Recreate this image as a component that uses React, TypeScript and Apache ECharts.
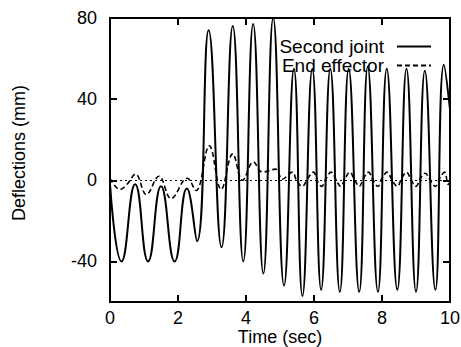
import React, { useEffect, useRef } from "react";
import * as echarts from "echarts";

// Second joint deflection (time s, value mm)
const jointTimes = [0, 0.34, 0.74, 1.12, 1.5, 1.9, 2.26, 2.56, 2.9, 3.28, 3.61, 3.92, 4.21, 4.51, 4.8, 5.12, 5.41, 5.66, 5.95, 6.21, 6.48, 6.76, 7.02, 7.33, 7.58, 7.88, 8.14, 8.45, 8.72, 9.0, 9.26, 9.57, 9.82, 10];
const jointValues = [-2, -40, -2, -40, -3, -40, -4, -30, 74, -33, 76, -40, 77, -46, 80, -52, 55, -57, 55, -54, 55, -55, 55, -55, 56, -55, 55, -54, 55, -55, 54, -54, 57, 35];

// End effector deflection
const effTimes = [0, 0.29, 0.5, 0.75, 1.07, 1.44, 1.8, 2.27, 2.53, 2.92, 3.27, 3.61, 3.9, 4.22, 4.48, 4.87, 5.07, 5.36, 5.5, 5.65, 5.82, 5.98, 6.12, 6.22, 6.36, 6.5, 6.66, 6.78, 6.92, 7.05, 7.2, 7.33, 7.46, 7.6, 7.74, 7.88, 8.0, 8.15, 8.3, 8.45, 8.58, 8.72, 8.86, 9.0, 9.13, 9.27, 9.42, 9.57, 9.7, 9.84, 9.95, 10];
const effValues = [1, -4.5, -2, 3, -7, 2, -9, 1, -5, 17, -4.5, 13, 0, 9, 4, 5.5, 0.5, 4, -0.5, -3, 1, 4, -1, -3, 1, 4, 0, -3, 1, 4, 0, -3, 1, 4, 0, -3, 1, 4, 0, -3, 1, 4, 0, -3, 1, 3.5, 0, -3, 1, 4, -2, -1];

const xTicks = [0, 2, 4, 6, 8, 10];
const yTicks = [-40, 0, 40, 80];

const FONT = "'Liberation Sans', Arial, Helvetica, sans-serif";

export default function App() {
  const ref = useRef<HTMLDivElement>(null);
  useEffect(() => {
    if (!ref.current) return;
    const chart = echarts.init(ref.current, undefined, { renderer: "svg" });
    const axisLine = () => ({ show: true, onZero: false, lineStyle: { color: "#000", width: 2 } });
    const tick = (vals: number[]) => ({ show: true, inside: true, length: 7, lineStyle: { color: "#000", width: 2 }, customValues: vals });
    chart.setOption({
      animation: false,
      backgroundColor: "#fff",
      textStyle: { fontFamily: FONT },
      grid: {
        left: 110, right: 11, top: 18, bottom: 45,
        containLabel: false, outerBoundsMode: "none",
        show: true, borderColor: "#000", borderWidth: 2, backgroundColor: "transparent",
      },
      legend: {
        orient: "vertical",
        right: 29,
        top: 37,
        padding: 0,
        align: "right",
        itemWidth: 34,
        itemHeight: 14,
        itemGap: 0,
        itemStyle: { opacity: 0 },
        textStyle: { fontSize: 19, color: "#000", fontFamily: FONT, lineHeight: 16, padding: [0, 8, 0, 0] },
        data: ["Second joint", "End effector"],
      },
      xAxis: [
        {
          type: "value",
          min: 0,
          max: 10,
          interval: 2,
          position: "bottom",
          axisLine: axisLine(),
          axisTick: tick(xTicks),
          axisLabel: { color: "#000", fontSize: 18, lineHeight: 18, margin: 7, fontFamily: FONT, customValues: xTicks },
          splitLine: { show: false },
          name: "Time (sec)",
          nameLocation: "middle",
          nameGap: 26,
          nameMoveOverlap: false,
          nameTextStyle: { color: "#000", fontSize: 18, lineHeight: 18, fontFamily: FONT },
        },
        {
          type: "value",
          min: 0,
          max: 10,
          interval: 2,
          position: "top",
          axisLine: axisLine(),
          axisTick: tick(xTicks),
          axisLabel: { show: false },
          splitLine: { show: false },
        },
      ],
      yAxis: [
        {
          type: "value",
          min: -60,
          max: 80,
          interval: 20,
          position: "left",
          axisLine: axisLine(),
          axisTick: tick(yTicks),
          axisLabel: { color: "#000", fontSize: 18, margin: 13, fontFamily: FONT, customValues: yTicks },
          splitLine: { show: false },
          name: "Deflections (mm)",
          nameLocation: "middle",
          nameGap: 82,
          nameMoveOverlap: false,
          nameTextStyle: { color: "#000", fontSize: 18, fontFamily: FONT, padding: [0, 0, 0, 14] },
        },
        {
          type: "value",
          min: -60,
          max: 80,
          interval: 20,
          position: "right",
          axisLine: axisLine(),
          axisTick: tick(yTicks),
          axisLabel: { show: false },
          splitLine: { show: false },
        },
      ],
      series: [
        {
          name: "Second joint",
          type: "line",
          xAxisIndex: 0,
          yAxisIndex: 0,
          data: jointTimes.map((t, i) => [t, jointValues[i]]),
          symbol: "none",
          smooth: 0.5,
          lineStyle: { color: "#000", width: 2, type: "solid" },
          itemStyle: { color: "#000" },
          markLine: {
            silent: true,
            symbol: ["none", "none"],
            label: { show: false },
            lineStyle: { color: "#000", width: 1, type: [2, 3] },
            data: [{ yAxis: 0 }],
          },
        },
        {
          name: "End effector",
          type: "line",
          xAxisIndex: 1,
          yAxisIndex: 1,
          data: effTimes.map((t, i) => [t, effValues[i]]),
          symbol: "none",
          smooth: 0.4,
          lineStyle: { color: "#000", width: 1.6, type: [5, 3] },
          itemStyle: { color: "#000" },
        },
      ],
    });
    return () => chart.dispose();
  }, []);
  return <div ref={ref} style={{ position: "fixed", left: 0, top: 0, width: 461, height: 347 }} />;
}
